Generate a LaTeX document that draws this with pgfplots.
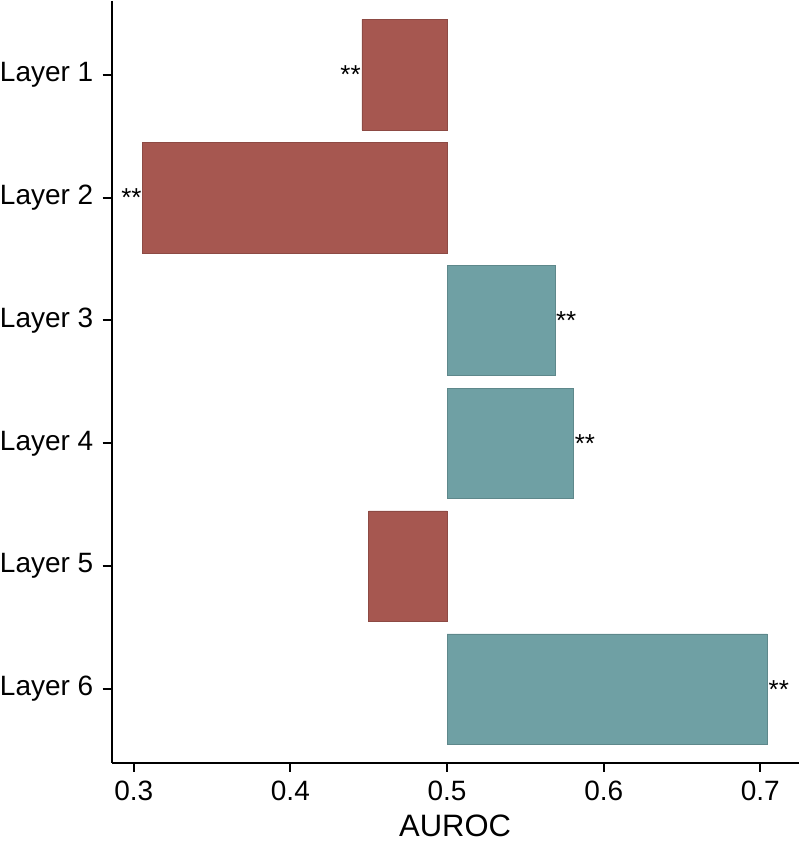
\documentclass[border=0pt]{standalone}
\usepackage{pgfplots}
\pgfplotsset{compat=1.18}
\usepackage{pgfplotstable}
\usepackage{fontspec}
\setmainfont{Liberation Sans}

\definecolor{belowred}{HTML}{A65750}
\definecolor{aboveteal}{HTML}{6FA0A4}

% AUROC per layer, bars are drawn from the chance level 0.5
\pgfplotstableread{
layer auroc sig
1 0.4457 **
2 0.3058 **
5 0.4499 {}
}\belowchance
\pgfplotstableread{
layer auroc sig
3 0.5688 **
4 0.5807 **
6 0.7045 **
}\abovechance

\begin{document}
\begin{tikzpicture}
\begin{axis}[
    scale only axis,
    width=344pt, height=381.5pt,
    xbar, bar shift=0pt, bar width=0.9,
    xmin=-0.2141, xmax=0.2244,
    ymin=0.4, ymax=6.6, y dir=reverse,
    axis x line*=bottom, axis y line*=left,
    axis line style={line width=1pt, black},
    tick style={line width=1pt, black},
    major tick length=4.5pt, tick align=outside,
    xtick={-0.2,-0.1,0,0.1,0.2},
    xticklabels={0.3,0.4,0.5,0.6,0.7},
    ytick={1,2,3,4,5,6},
    yticklabels={Layer 1,Layer 2,Layer 3,Layer 4,Layer 5,Layer 6},
    tick label style={font=\fontsize{14}{16}\selectfont},
    yticklabel style={inner xsep=0pt, xshift=-4.5pt},
    xticklabel style={yshift=-1pt},
    xlabel={AUROC},
    xlabel style={font=\fontsize{15.5}{18}\selectfont, inner sep=2pt,
        at={(axis description cs:0.5,0)}, anchor=base, yshift=-37pt},
    nodes near coords, point meta=explicit symbolic,
    nodes near coords style={font=\fontsize{13}{14}\selectfont, inner sep=0.5pt},
]
\addplot[fill=belowred, draw=belowred!85!black, line width=0.3pt,
    nodes near coords style={anchor=east}]
    table[x expr=\thisrow{auroc}-0.5, y=layer, meta=sig] {\belowchance};
\addplot[fill=aboveteal, draw=aboveteal!85!black, line width=0.3pt,
    nodes near coords style={anchor=west}]
    table[x expr=\thisrow{auroc}-0.5, y=layer, meta=sig] {\abovechance};
\end{axis}
\end{tikzpicture}
\end{document}
